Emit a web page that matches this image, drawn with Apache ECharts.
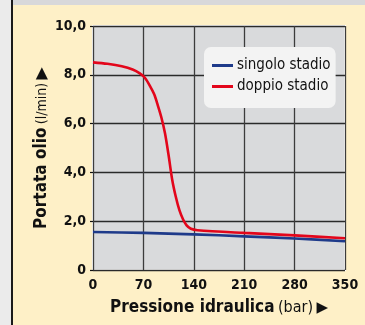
<!DOCTYPE html>
<html><head><meta charset="utf-8">
<script src="https://cdn.jsdelivr.net/npm/echarts@6/dist/echarts.min.js"></script>
<style>html,body{margin:0;padding:0;background:#fef0c7;}#c{width:365px;height:325px;}</style>
</head><body><div id="c"></div>
<script>
var xTicks = [0, 70, 140, 210, 280, 350];
var yTicks = [0, 2, 4, 6, 8, 10];
var seriesNames = ['singolo stadio', 'doppio stadio'];
var singoloStadio = [[0,1.56],[70,1.52],[140,1.46],[210,1.38],[280,1.29],[350,1.18]];
var doppioStadio = [[0,8.51],[20,8.45],[40,8.35],[55,8.22],[65,8.06],[72,7.88],[79,7.55],[85,7.2],[90,6.75],[95,6.25],[100,5.6],[105,4.7],[110,3.7],[115,3.0],[120,2.45],[125,2.08],[130,1.83],[136,1.69],[145,1.63],[210,1.52],[280,1.42],[350,1.30]];

var FONT = '"DejaVu Sans Condensed","Liberation Sans Narrow","Liberation Sans",Arial,sans-serif';
var chart = echarts.init(document.getElementById('c'), null, {renderer:'canvas'});
chart.setOption({
  animation: false,
  backgroundColor: '#fef0c7',
  textStyle: {fontFamily: FONT},
  graphic: {elements: [
    {type:'rect', left:0, top:0, shape:{width:11, height:325}, style:{fill:'#ebebeb'}, silent:true},
    {type:'rect', left:11, top:0, shape:{width:2, height:325}, style:{fill:'#1a1a1a'}, silent:true},
    {type:'rect', left:13, top:0, shape:{width:352, height:5}, style:{fill:'#d8d8da'}, silent:true}
  ]},
  grid: {left:93, right:20, top:26, bottom:55, show:true, backgroundColor:'#d9dadc', borderColor:'#ffffff', borderWidth:2},
  legend: {
    orient:'vertical', left:204, top:47, padding:[11,5,14,8], itemGap:6,
    backgroundColor:'#f3f3f3', borderRadius:7,
    icon:'rect', itemWidth:21, itemHeight:3,
    textStyle:{fontFamily:FONT, fontSize:15, color:'#111', padding:[0,0,0,-1]},
    data: seriesNames
  },
  xAxis: {
    type:'value', min:xTicks[0], max:xTicks[xTicks.length-1], interval:70,
    axisLine:{show:false}, axisTick:{show:false},
    splitLine:{show:true, lineStyle:{color:'#3c3c3c', width:1.3}},
    axisLabel:{fontFamily:FONT, fontWeight:'bold', fontSize:14, color:'#111', margin:8,
      formatter:function(v){return xTicks.indexOf(v)>=0 ? String(v) : '';}},
    name:'{b|Pressione idraulica} {r|(bar)} {t|▶}', nameLocation:'middle', nameGap:38,
    nameMoveOverlap:false,
    nameTextStyle:{verticalAlign:'middle', rich:{
      b:{fontFamily:FONT, fontWeight:'bold', fontSize:17, color:'#111'},
      r:{fontFamily:FONT, fontSize:16, color:'#111'},
      t:{fontFamily:'DejaVu Sans', fontSize:15, color:'#111'}}}
  },
  yAxis: {
    type:'value', min:yTicks[0], max:yTicks[yTicks.length-1], interval:2,
    axisLine:{show:false}, axisTick:{show:true, length:3, lineStyle:{color:'#111', width:1.2}},
    splitLine:{show:true, lineStyle:{color:'#2a2a2a', width:1.3}},
    axisLabel:{fontFamily:FONT, fontWeight:'bold', fontSize:14, color:'#111', margin:7,
      formatter:function(v){return v===0 ? '0' : v.toFixed(1).replace('.', ',');}},
    name:'{b|Portata olio} {r|(l/min)} {t|▶}', nameLocation:'middle', nameGap:51, nameRotate:90,
    nameMoveOverlap:false,
    nameTextStyle:{verticalAlign:'middle', rich:{
      b:{fontFamily:FONT, fontWeight:'bold', fontSize:17, color:'#111'},
      r:{fontFamily:FONT, fontSize:14, color:'#111'},
      t:{fontFamily:'DejaVu Sans', fontSize:16, color:'#111'}}}
  },
  series: [
    {name:seriesNames[0], type:'line', data:singoloStadio, showSymbol:false, smooth:0.3,
      lineStyle:{color:'#1e3a8a', width:2.6}, itemStyle:{color:'#1e3a8a'}, z:3},
    {name:seriesNames[1], type:'line', data:doppioStadio, showSymbol:false, smooth:0.3,
      lineStyle:{color:'#e3061b', width:2.6}, itemStyle:{color:'#e3061b'}, z:4}
  ]
});
</script></body></html>
